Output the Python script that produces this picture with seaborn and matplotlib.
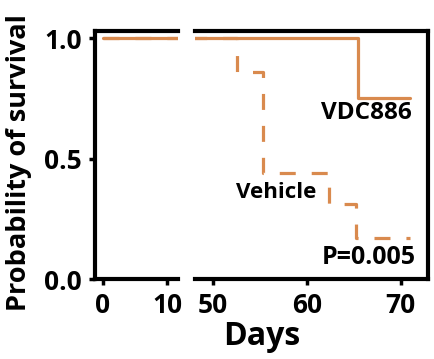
import numpy as np
import pandas as pd
import matplotlib
matplotlib.use('Agg')
import matplotlib.pyplot as plt
import seaborn as sns

# Kaplan-Meier step data
vdc_days = [0, 65.4, 71]
vdc_surv = [1.0, 0.75, 0.75]
veh_days = [0, 52.5, 55.3, 62.3, 65.2, 71]
veh_surv = [1.0, 0.86, 0.44, 0.31, 0.17, 0.17]

y_ticks = [0.0, 0.5, 1.0]
y_ticklabels = ['0.0', '0.5', '1.0']
left_ticks = [0, 10]
right_ticks = [50, 60, 70]

orange = '#D98A4E'

sns.set_style('ticks')
plt.rcParams['font.family'] = ['Open Sans', 'DejaVu Sans']
plt.rcParams['font.weight'] = 'bold'
plt.rcParams['text.color'] = 'black'
plt.rcParams['xtick.color'] = 'black'
plt.rcParams['ytick.color'] = 'black'
plt.rcParams['axes.labelcolor'] = 'black'

df_vdc = pd.DataFrame({'Days': vdc_days, 'Surv': vdc_surv})
df_veh = pd.DataFrame({'Days': veh_days, 'Surv': veh_surv})

fig = plt.figure(figsize=(4.34, 3.59), dpi=100)
ax1 = fig.add_axes([95 / 434, 1 - 279 / 359, 83 / 434, 248 / 359])
ax2 = fig.add_axes([195 / 434, 1 - 279 / 359, 233 / 434, 248 / 359])

for ax in (ax1, ax2):
    sns.lineplot(data=df_veh, x='Days', y='Surv', ax=ax, color=orange, lw=2.3,
                 drawstyle='steps-post', estimator=None, linestyle=(0, (5, 5)))
    sns.lineplot(data=df_vdc, x='Days', y='Surv', ax=ax, color=orange, lw=2.3,
                 drawstyle='steps-post', estimator=None)
    ax.set_ylim(0, 1.03)
    ax.set_xlabel('')
    ax.set_ylabel('')
    for s in ax.spines.values():
        s.set_linewidth(3)
        s.set_color('black')
    ax.tick_params(width=2.5, length=4.5, labelsize=19, pad=5, color='black')

ax1.set_xlim(-1.25, 11.7)
ax1.set_xticks(left_ticks)
ax1.set_yticks(y_ticks)
ax1.set_yticklabels(y_ticklabels, fontweight='bold')
ax1.spines['right'].set_visible(False)
ax1.set_ylabel('Probability of survival', fontsize=19.5, fontweight='bold')
ax1.yaxis.set_label_coords(-0.76, 0.47)

ax2.set_xlim(48.05, 72.9)
ax2.set_xticks(right_ticks)
ax2.spines['left'].set_visible(False)
ax2.tick_params(axis='y', left=False, labelleft=False)

for ax, ticks in ((ax1, left_ticks), (ax2, right_ticks)):
    ax.set_xticklabels([str(t) for t in ticks], fontweight='bold')

ax2.text(71.2, 0.69, 'VDC886', ha='right', va='center', fontsize=17.5, fontweight='bold')
ax2.text(56.7, 0.36, 'Vehicle', ha='center', va='center', fontsize=16, fontweight='bold')
ax2.text(71.6, 0.09, 'P=0.005', ha='right', va='center', fontsize=18, fontweight='bold')

fig.text(262 / 434, 14 / 359, 'Days', ha='center', va='baseline', fontsize=23, fontweight='bold')

fig.savefig('out.png', dpi=100)
